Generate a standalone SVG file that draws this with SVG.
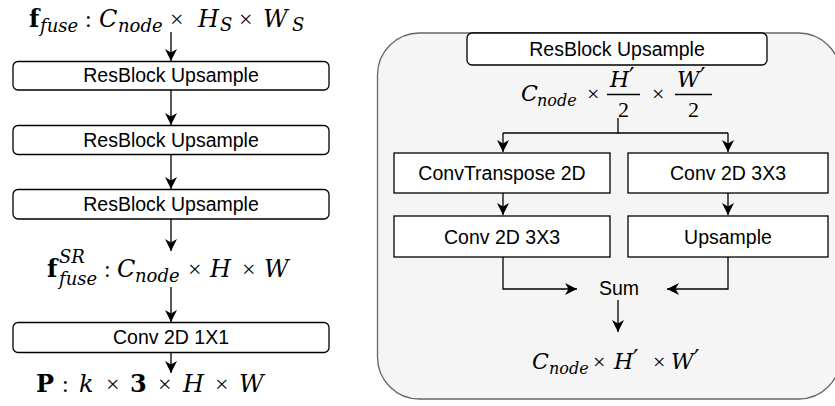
<svg xmlns="http://www.w3.org/2000/svg" width="835" height="406" viewBox="0 0 835 406">
<style>
.box{fill:#fff;stroke:#000;stroke-width:1.3}
.lbl{font-family:"Liberation Sans",Arial,sans-serif;font-size:19.5px;fill:#000;text-anchor:middle}
.m{font-family:"DejaVu Serif","Liberation Serif",serif;font-size:24px;font-style:italic;fill:#000}
.m2{font-size:22px}
.r{font-family:"Liberation Serif","Times New Roman",serif;font-style:normal}
.b{font-weight:bold;font-style:normal}
.s{font-size:18px}
.s2{font-size:16px}
.p{font-family:"DejaVu Sans",sans-serif;font-style:normal;font-size:24px}
.e{fill:none;stroke:#000;stroke-width:1.3;marker-end:url(#a)}
.ln{fill:none;stroke:#000;stroke-width:1.3}
</style>
<defs>
<marker id="a" markerUnits="userSpaceOnUse" markerWidth="13" markerHeight="13" refX="12" refY="6" orient="auto">
<path d="M0,0 L12,6 L0,12 L3.5,6 Z" fill="#000"/>
</marker>
</defs>
<g id="panel">
<rect x="377.5" y="33" width="463" height="366" rx="42" fill="#f5f5f5" stroke="#666" stroke-width="1.3"/>
</g>
<g id="connectors">
<path class="e" d="M171,32 V61"/>
<path class="e" d="M171,90 V125"/>
<path class="e" d="M171,155 V189"/>
<path class="e" d="M171,219 V251"/>
<path class="e" d="M171,287 V322"/>
<path class="e" d="M171,352 V373"/>
<path class="ln" d="M618,118 V133 H503"/>
<path class="ln" d="M618,133 H728"/>
<path class="e" d="M503,133 V152"/>
<path class="e" d="M728,133 V152"/>
<path class="e" d="M503,193 V215"/>
<path class="e" d="M728,193 V215"/>
<path class="e" d="M503,257 V289 H577"/>
<path class="e" d="M728,257 V289 H667"/>
<path class="e" d="M618,300 V332"/>
</g>
<g id="in-label">
<text class="m" y="27"><tspan x="29" class="b">f</tspan><tspan x="40" y="32" class="s">fuse</tspan><tspan x="85" y="27" class="r">:</tspan><tspan x="99">C</tspan><tspan x="118" y="32" class="s">node</tspan><tspan x="170" y="27" class="r">×</tspan><tspan x="198">H</tspan><tspan x="220" y="31" class="s">S</tspan><tspan x="239" y="27" class="r">×</tspan><tspan x="263">W</tspan><tspan x="292" y="31" class="s">S</tspan></text>
</g>
<g id="res1"><rect class="box" x="13" y="61.5" width="316" height="28.5" rx="5"/><text class="lbl" x="171" y="82">ResBlock Upsample</text></g>
<g id="res2"><rect class="box" x="13" y="125.5" width="316" height="29" rx="5"/><text class="lbl" x="171" y="146.5">ResBlock Upsample</text></g>
<g id="res3"><rect class="box" x="13" y="189.5" width="316" height="29.5" rx="5"/><text class="lbl" x="171" y="210.5">ResBlock Upsample</text></g>
<g id="sr-label">
<text class="m" y="277"><tspan x="47" class="b">f</tspan><tspan x="59" y="263" class="s">SR</tspan><tspan x="59" y="285" class="s">fuse</tspan><tspan x="104" y="277" class="r">:</tspan><tspan x="117">C</tspan><tspan x="135" y="282" class="s">node</tspan><tspan x="188" y="277" class="r">×</tspan><tspan x="210">H</tspan><tspan x="242" class="r">×</tspan><tspan x="264">W</tspan></text>
</g>
<g id="conv1x1"><rect class="box" x="13" y="322.5" width="316" height="30" rx="5"/><text class="lbl" x="171" y="344">Conv 2D 1X1</text></g>
<g id="out-label">
<text class="m" y="392"><tspan x="36" class="b">P</tspan><tspan x="62" class="r">:</tspan><tspan x="79">k</tspan><tspan x="106" class="r">×</tspan><tspan x="130" class="b">3</tspan><tspan x="158" class="r">×</tspan><tspan x="183">H</tspan><tspan x="215" class="r">×</tspan><tspan x="239">W</tspan></text>
</g>
<g id="r-res"><rect class="box" x="467" y="33" width="300" height="32" rx="5"/><text class="lbl" x="617" y="56">ResBlock Upsample</text></g>
<g id="r-in-label">
<text class="m m2" y="101"><tspan x="521">C</tspan><tspan x="537" y="106" class="s2">node</tspan><tspan x="587" y="101" class="r">×</tspan><tspan x="610" y="87">H</tspan><tspan x="629" y="85" class="p">′</tspan><tspan x="618" y="117" class="r">2</tspan><tspan x="652" y="101" class="r">×</tspan><tspan x="677" y="87">W</tspan><tspan x="700" y="85" class="p">′</tspan><tspan x="688" y="117" class="r">2</tspan></text>
<path class="ln" d="M607,94.5 H640 M675,94.5 H712"/>
</g>
<g id="convT"><rect class="box" x="394" y="153" width="216" height="40"/><text class="lbl" x="502" y="180">ConvTranspose 2D</text></g>
<g id="conv3a"><rect class="box" x="628" y="153" width="200" height="40"/><text class="lbl" x="728" y="180">Conv 2D 3X3</text></g>
<g id="conv3b"><rect class="box" x="394" y="216" width="216" height="41"/><text class="lbl" x="502" y="243.5">Conv 2D 3X3</text></g>
<g id="upsample"><rect class="box" x="628" y="216" width="200" height="41"/><text class="lbl" x="728" y="243.5">Upsample</text></g>
<g id="sum"><text class="lbl" x="619" y="295">Sum</text></g>
<g id="r-out-label">
<text class="m m2" y="369"><tspan x="532">C</tspan><tspan x="549" y="374" class="s2">node</tspan><tspan x="593" y="369" class="r">×</tspan><tspan x="614">H</tspan><tspan x="633" y="367" class="p">′</tspan><tspan x="653" y="369" class="r">×</tspan><tspan x="671">W</tspan><tspan x="694" y="367" class="p">′</tspan></text>
</g>
</svg>
